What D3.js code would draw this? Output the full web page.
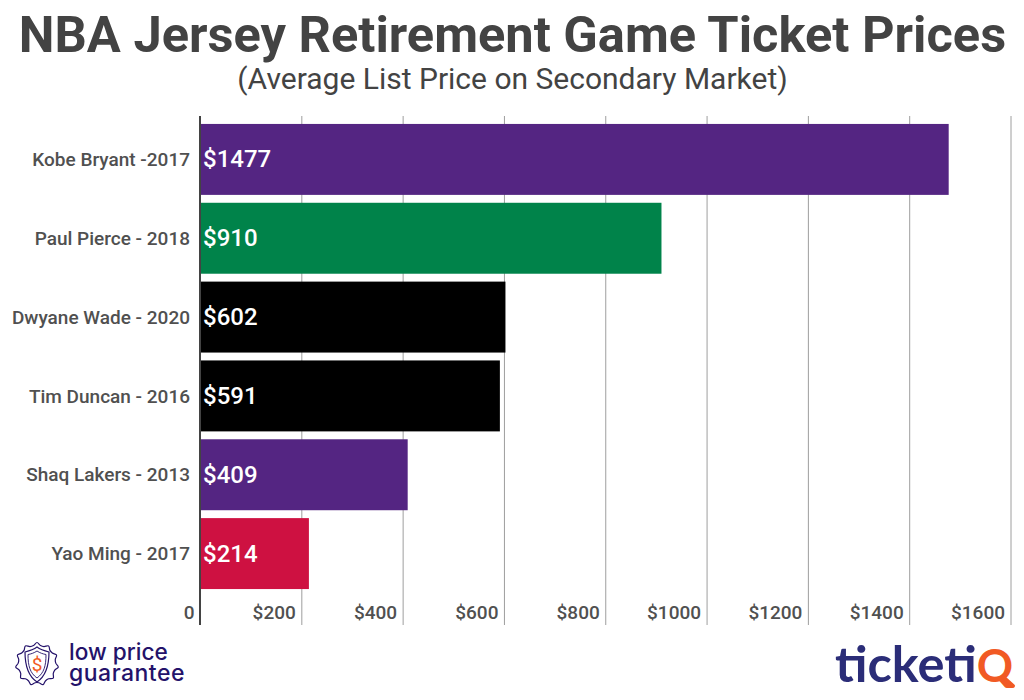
<!DOCTYPE html>
<html>
<head>
<meta charset="utf-8">
<script src="https://d3js.org/d3.v7.min.js"></script>
<style>
	html, body { margin: 0; padding: 0; background: #fff; }
	svg { display: block; }
	text { font-family: Roboto, sans-serif; }
</style>
</head>
<body>
<svg id="chart" width="1024" height="700"></svg>
<script>
	var players = ["Kobe Bryant -2017", "Paul Pierce - 2018", "Dwyane Wade - 2020", "Tim Duncan - 2016", "Shaq Lakers - 2013", "Yao Ming - 2017"];
	var prices = [1477, 910, 602, 591, 409, 214];
	var barColors = ["#542582", "#00834a", "#000000", "#000000", "#542582", "#ce1141"];
	var tickValues = [0, 200, 400, 600, 800, 1000, 1200, 1400, 1600];

	var svg = d3.select("#chart");
	var x = d3.scaleLinear().domain([0, 1600]).range([200.5, 1011]);
	var y = d3.scaleBand().domain(players).range([120, 593]).paddingInner(0.1).paddingOuter(0.05);

	// titulo
	svg.append("text").attr("x", 512.5).attr("y", 52).attr("text-anchor", "middle")
		.attr("font-size", 50.6).attr("font-weight", 700).attr("fill", "#434343")
		.text("NBA Jersey Retirement Game Ticket Prices");
	svg.append("text").attr("x", 512.5).attr("y", 89).attr("text-anchor", "middle")
		.attr("font-size", 30).attr("fill", "#434343")
		.text("(Average List Price on Secondary Market)");

	// rejilla
	svg.selectAll("line.grid").data(tickValues.slice(1)).enter().append("line")
		.attr("class", "grid")
		.attr("x1", x).attr("x2", x).attr("y1", 116).attr("y2", 625)
		.attr("stroke", "#9e9e9e").attr("stroke-width", 1);

	// barras
	svg.selectAll("rect.bar").data(players).enter().append("rect")
		.attr("class", "bar")
		.attr("x", x(0))
		.attr("y", function(d){ return y(d); })
		.attr("width", function(d, i){ return x(prices[i]) - x(0); })
		.attr("height", y.bandwidth())
		.attr("fill", function(d, i){ return barColors[i]; });

	svg.append("line").attr("x1", 200).attr("x2", 200).attr("y1", 116).attr("y2", 625)
		.attr("stroke", "#434343").attr("stroke-width", 2);

	svg.selectAll("text.value").data(players).enter().append("text")
		.attr("class", "value")
		.attr("x", 203)
		.attr("y", function(d){ return y(d) + y.bandwidth() / 2 + 8; })
		.attr("font-size", 24).attr("font-weight", 500).attr("fill", "#fff")
		.text(function(d, i){ return "$" + prices[i]; });

	// etiquetas
	svg.selectAll("text.player").data(players).enter().append("text")
		.attr("class", "player")
		.attr("x", 190)
		.attr("y", function(d){ return y(d) + y.bandwidth() / 2 + 6.7; })
		.attr("text-anchor", "end").attr("font-size", 19).attr("font-weight", 500).attr("fill", "#505050")
		.text(function(d){ return d; });

	svg.selectAll("text.tick").data(tickValues).enter().append("text")
		.attr("class", "tick")
		.attr("x", function(d){ return x(d) - 6; })
		.attr("y", 619)
		.attr("text-anchor", "end").attr("font-size", 19).attr("font-weight", 500).attr("fill", "#505050")
		.text(function(d){ return d === 0 ? "0" : "$" + d; });

	// logo low price guarantee
	var badge = svg.append("g").attr("transform", "translate(37,664)");
	var scallop = d3.range(0, 33).map(function(i){
		return [i / 33 * 2 * Math.PI, i % 3 === 0 ? 21.5 : 18.8];
	});
	badge.append("path")
		.attr("d", d3.lineRadial().curve(d3.curveCatmullRomClosed)(scallop))
		.attr("fill", "none").attr("stroke", "#24126a").attr("stroke-width", 1.2);
	badge.append("path").attr("d", "M0,-17 C4,-14 8,-13 12,-12 C12,2 9,12 0,18 C-9,12 -12,2 -12,-12 C-8,-13 -4,-14 0,-17Z")
		.attr("fill", "#fff").attr("stroke", "#24126a").attr("stroke-width", 1.2);
	badge.append("path").attr("d", "M0,-13 C3,-11 6,-10 9,-9.5 C9,2 7,9 0,14 C-7,9 -9,2 -9,-9.5 C-6,-10 -3,-11 0,-13Z")
		.attr("fill", "none").attr("stroke", "#24126a").attr("stroke-width", 0.9);
	badge.append("text").attr("x", 0).attr("y", 7).attr("text-anchor", "middle")
		.attr("font-size", 19).attr("fill", "#f15a24").text("$");
	svg.append("text").attr("x", 69).attr("y", 660)
		.attr("font-size", 22.6).attr("font-weight", 500).attr("fill", "#24126a")
		.style("font-family", "Inter, sans-serif").text("low price");
	svg.append("text").attr("x", 69).attr("y", 681)
		.attr("font-size", 23).attr("font-weight", 500).attr("letter-spacing", 0.5).attr("fill", "#24126a")
		.style("font-family", "Inter, sans-serif").text("guarantee");

	// logo ticketIQ
	var logo = svg.append("text").attr("x", 835).attr("y", 682)
		.attr("font-size", 50.5).attr("font-weight", 700).style("font-family", "Lato, sans-serif");
	logo.append("tspan").attr("fill", "#2b2d78").text("ticket");
	logo.append("tspan").attr("fill", "#f15a24").text("i");
	logo.append("tspan").attr("fill", "#f15a24").attr("font-size", 45).text("Q");
	svg.append("line").attr("x1", 1003).attr("y1", 677).attr("x2", 1013).attr("y2", 686)
		.attr("stroke", "#f15a24").attr("stroke-width", 4).attr("stroke-linecap", "round");
</script>
</body>
</html>
